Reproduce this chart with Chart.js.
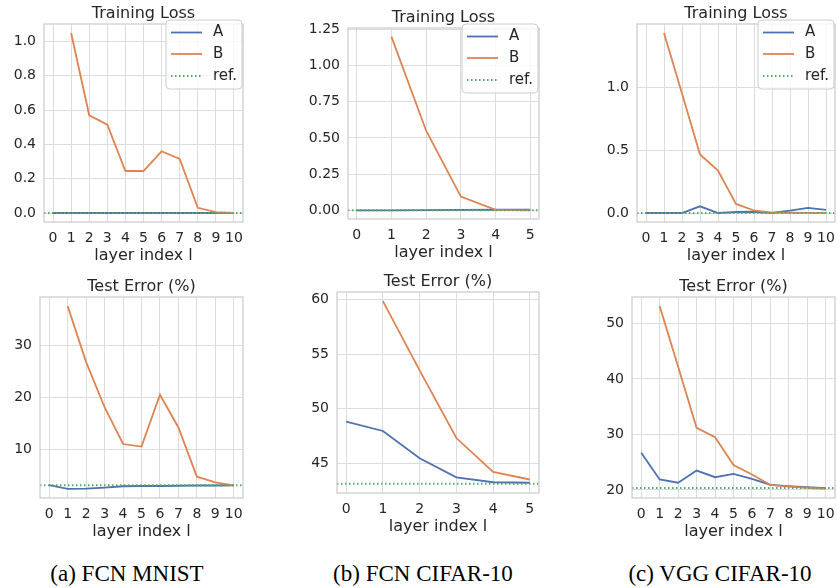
<!DOCTYPE html>
<html>
<head>
<meta charset="utf-8">
<script src="https://cdn.jsdelivr.net/npm/chart.js@4/dist/chart.umd.min.js"></script>
<style>
  body { margin: 0; background: #fff; width: 837px; height: 588px; position: relative; overflow: hidden; }
  canvas { position: absolute; }
  .cap { position: absolute; top: 562px; height: 24px; line-height: 24px; font-family: "Liberation Serif", serif; font-size: 23px; color: #000; white-space: nowrap; transform: translateX(-50%); }
</style>
</head>
<body>
<canvas id="trainMnist"></canvas>
<canvas id="trainCifar"></canvas>
<canvas id="trainVgg"></canvas>
<canvas id="testMnist"></canvas>
<canvas id="testCifar"></canvas>
<canvas id="testVgg"></canvas>
<div class="cap" style="left:127px">(a) FCN MNIST</div>
<div class="cap" style="left:423px">(b) FCN CIFAR-10</div>
<div class="cap" style="left:720px">(c) VGG CIFAR-10</div>
<script>
// dados
const layers10 = [0, 1, 2, 3, 4, 5, 6, 7, 8, 9, 10];
const layers5 = [0, 1, 2, 3, 4, 5];

const mnistTrainA = [0, 0, 0, 0, 0, 0, 0, 0, 0, 0, 0];
const mnistTrainB = [null, 1.05, 0.57, 0.515, 0.245, 0.245, 0.36, 0.315, 0.03, 0.005, 0.0];
const mnistTrainRef = 0;
const mnistTestA = [3.05, 2.35, 2.4, 2.6, 2.85, 2.9, 2.9, 2.95, 3.0, 3.0, 3.05];
const mnistTestB = [null, 37.6, 26.8, 18.1, 11.0, 10.5, 20.5, 14.2, 4.7, 3.6, 3.0];
const mnistTestRef = 3.05;

const cifarTrainA = [0, 0, 0.001, 0.003, 0.004, 0.004];
const cifarTrainB = [null, 1.2, 0.55, 0.095, 0.003, 0.0];
const cifarTrainRef = 0;
const cifarTestA = [48.8, 47.95, 45.45, 43.7, 43.25, 43.2];
const cifarTestB = [null, 59.85, 53.5, 47.3, 44.2, 43.5];
const cifarTestRef = 43.1;

const vggTrainA = [0, 0, 0, 0.053, 0, 0.008, 0.01, 0, 0.019, 0.04, 0.024];
const vggTrainB = [null, 1.43, 0.95, 0.465, 0.338, 0.072, 0.02, 0.003, 0.002, 0.001, 0];
const vggTrainRef = 0;
const vggTestA = [26.7, 21.9, 21.3, 23.5, 22.3, 22.9, 22.0, 20.9, 20.7, 20.5, 20.35];
const vggTestB = [null, 53.1, 42.2, 31.2, 29.5, 24.5, 22.8, 20.9, 20.6, 20.4, 20.2];
const vggTestRef = 20.35;

const mnistTrainTicks = ['0.0', '0.2', '0.4', '0.6', '0.8', '1.0'];
const cifarTrainTicks = ['0.00', '0.25', '0.50', '0.75', '1.00', '1.25'];
const vggTrainTicks = ['0.0', '0.5', '1.0'];
const mnistTestTicks = ['10', '20', '30'];
const cifarTestTicks = ['45', '50', '55', '60'];
const vggTestTicks = ['20', '30', '40', '50'];

const seriesNames = ['A', 'B', 'ref.'];
const corA = '#4C72B0';
const corB = '#DD8452';
const corRef = '#55A868';
const textColor = '#262626';

Chart.defaults.font.family = '"DejaVu Sans", sans-serif';
Chart.defaults.color = textColor;

// margem de 5% como no matplotlib
function limites(vals) {
    const v = vals.filter(x => x !== null);
    const lo = Math.min(...v), hi = Math.max(...v);
    const m = (hi - lo) * 0.05;
    return [lo - m, hi + m];
}

const molduraPlugin = {
    id: 'moldura',
    afterDatasetsDraw(chart) {
        const a = chart.chartArea, ctx = chart.ctx;
        ctx.save();
        ctx.strokeStyle = '#cccccc';
        ctx.lineWidth = 1.25;
        ctx.strokeRect(a.left, a.top, a.right - a.left, a.bottom - a.top);
        ctx.restore();
    },
    afterDraw(chart) {
        const a = chart.chartArea, ctx = chart.ctx;
        const o = chart.options.plugins.moldura;
        ctx.save();
        ctx.fillStyle = textColor;
        ctx.font = '16px "DejaVu Sans"';
        ctx.textAlign = 'center';
        ctx.textBaseline = 'middle';
        ctx.fillText(o.titulo, (a.left + a.right) / 2, a.top - 10);
        if (o.legenda) {
            const w = 76, h = 69;
            const x = a.right - 1 - w, y = a.top - 4;
            ctx.beginPath();
            ctx.roundRect(x, y, w, h, 4);
            ctx.fillStyle = 'rgba(255,255,255,0.8)';
            ctx.fill();
            ctx.strokeStyle = '#cccccc';
            ctx.lineWidth = 1;
            ctx.stroke();
            const rows = [12.5, 34, 56];
            const cores = [corA, corB, corRef];
            ctx.font = '15px "DejaVu Sans"';
            ctx.textAlign = 'left';
            rows.forEach((r, i) => {
                ctx.beginPath();
                ctx.strokeStyle = cores[i];
                ctx.lineWidth = i === 2 ? 2 : 1.8;
                ctx.setLineDash(i === 2 ? [1.5, 2.5] : []);
                ctx.moveTo(x + 5, y + r);
                ctx.lineTo(x + 36, y + r);
                ctx.stroke();
                ctx.setLineDash([]);
                ctx.fillStyle = textColor;
                ctx.fillText(seriesNames[i], x + 47, y + r);
            });
        }
        ctx.restore();
    }
};

function criarPainel(id, caixa, area, titulo, xs, serieA, serieB, ref, yTicks, legenda) {
    const canvas = document.getElementById(id);
    const h = area.B + 43 - caixa.y0;
    canvas.width = caixa.w;
    canvas.height = h;
    canvas.style.left = caixa.x0 + 'px';
    canvas.style.top = caixa.y0 + 'px';

    const [xMin, xMax] = limites(xs);
    const [yMin, yMax] = limites(serieA.concat(serieB, [ref]));

    new Chart(canvas.getContext('2d'), {
        type: 'line',
        data: {
            datasets: [
                {
                    label: 'ref.', order: 0,
                    data: [{ x: xMin, y: ref }, { x: xMax, y: ref }],
                    borderColor: corRef, borderWidth: 2, borderDash: [1.5, 2.5]
                },
                {
                    label: 'B', order: 1,
                    data: xs.map((x, i) => ({ x: x, y: serieB[i] })),
                    borderColor: corB, borderWidth: 1.8
                },
                {
                    label: 'A', order: 2,
                    data: xs.map((x, i) => ({ x: x, y: serieA[i] })),
                    borderColor: corA, borderWidth: 1.8
                }
            ]
        },
        options: {
            responsive: false,
            animation: false,
            devicePixelRatio: 1,
            elements: { point: { radius: 0 }, line: { tension: 0 } },
            layout: {
                padding: {
                    left: 0,
                    top: area.T - caixa.y0,
                    right: caixa.x0 + caixa.w - area.R,
                    bottom: 0
                }
            },
            plugins: {
                legend: { display: false },
                tooltip: { enabled: false },
                moldura: { titulo: titulo, legenda: legenda }
            },
            scales: {
                x: {
                    type: 'linear', min: xMin, max: xMax,
                    afterBuildTicks: s => { s.ticks = xs.map(v => ({ value: v })); },
                    afterFit: s => { s.height = 43; s.paddingLeft = 0; s.paddingRight = 0; },
                    ticks: { padding: 7.5, font: { size: 14 }, maxRotation: 0, autoSkip: false, callback: v => String(v) },
                    grid: { color: '#dcdcdc', lineWidth: 1, drawTicks: false },
                    border: { display: false },
                    title: { display: true, text: 'layer index l', font: { size: 16 }, color: textColor, padding: 0 }
                },
                y: {
                    type: 'linear', min: yMin, max: yMax,
                    afterBuildTicks: s => { s.ticks = yTicks.map(t => ({ value: parseFloat(t) })); },
                    afterFit: s => { s.width = area.L - caixa.x0; s.paddingTop = 0; s.paddingBottom = 0; },
                    ticks: { padding: 8, font: { size: 14 }, autoSkip: false, callback: (v, i) => yTicks[i] },
                    grid: { color: '#dcdcdc', lineWidth: 1, drawTicks: false },
                    border: { display: false }
                }
            }
        },
        plugins: [molduraPlugin]
    });
}

document.addEventListener('DOMContentLoaded', () => {
    criarPainel('trainMnist', { x0: 0, y0: 0, w: 279 }, { L: 44, T: 24, R: 243, B: 222 },
        'Training Loss', layers10, mnistTrainA, mnistTrainB, mnistTrainRef, mnistTrainTicks, true);
    criarPainel('trainCifar', { x0: 280, y0: 0, w: 279 }, { L: 348, T: 28, R: 539, B: 219 },
        'Training Loss', layers5, cifarTrainA, cifarTrainB, cifarTrainRef, cifarTrainTicks, true);
    criarPainel('trainVgg', { x0: 560, y0: 0, w: 277 }, { L: 637, T: 24, R: 835, B: 222 },
        'Training Loss', layers10, vggTrainA, vggTrainB, vggTrainRef, vggTrainTicks, true);

    criarPainel('testMnist', { x0: 0, y0: 270, w: 279 }, { L: 40, T: 297, R: 243, B: 498 },
        'Test Error (%)', layers10, mnistTestA, mnistTestB, mnistTestRef, mnistTestTicks, false);
    criarPainel('testCifar', { x0: 280, y0: 270, w: 279 }, { L: 337, T: 292, R: 539, B: 493 },
        'Test Error (%)', layers5, cifarTestA, cifarTestB, cifarTestRef, cifarTestTicks, false);
    criarPainel('testVgg', { x0: 560, y0: 270, w: 277 }, { L: 632, T: 297, R: 835, B: 498 },
        'Test Error (%)', layers10, vggTestA, vggTestB, vggTestRef, vggTestTicks, false);
});
</script>
</body>
</html>
